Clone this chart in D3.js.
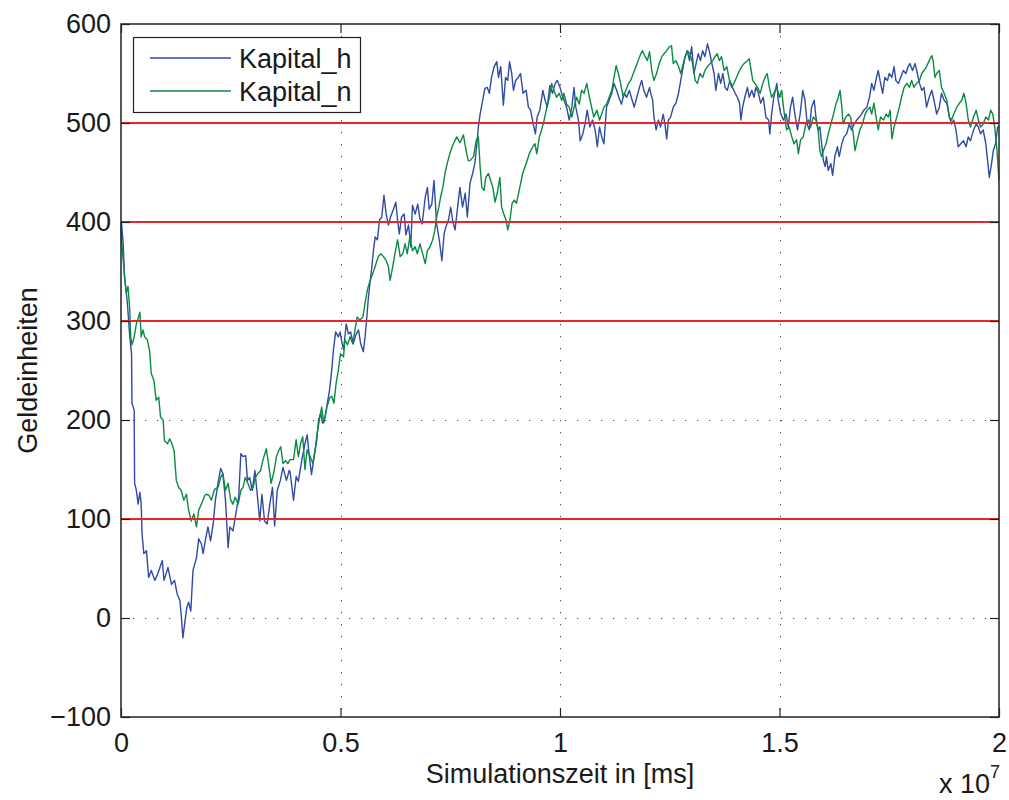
<!DOCTYPE html>
<html>
<head>
<meta charset="utf-8">
<script src="https://cdn.jsdelivr.net/npm/d3@7"></script>
<style>
  html, body { margin: 0; padding: 0; background: #fff; }
  svg text { font-family: "Liberation Sans", Arial, Helvetica, sans-serif; fill: #1a1a1a; }
</style>
</head>
<body>
<svg id="chart" width="1009" height="800"></svg>
<script>
// ---- data (time in units of 10^7 ms) ----
const kapitalH = [
 [0,400],[0.001,400],[0.005,378],[0.008,345],[0.014,321],[0.020,284],[0.024,267],[0.025,217],[0.030,210],[0.031,136],
 [0.035,129],[0.039,115],[0.043,127],[0.046,115],[0.048,85],[0.052,65],[0.058,68],[0.063,41],[0.069,48],[0.077,38],
 [0.084,45],[0.094,58],[0.098,38],[0.107,51],[0.115,34],[0.122,38],[0.128,24],[0.134,18],[0.137,4],[0.141,-20],
 [0.145,-6],[0.150,11],[0.154,16],[0.159,7],[0.164,48],[0.172,61],[0.177,80],[0.183,75],[0.187,65],[0.192,78],
 [0.198,92],[0.204,78],[0.210,95],[0.215,119],[0.221,136],[0.227,151],[0.232,146],[0.238,119],[0.244,71],[0.248,92],
 [0.255,88],[0.263,109],[0.268,122],[0.273,166],[0.278,163],[0.284,164],[0.288,139],[0.293,142],[0.299,129],[0.305,149],
 [0.311,122],[0.316,98],[0.321,125],[0.327,98],[0.333,95],[0.339,115],[0.345,132],[0.350,93],[0.356,129],[0.363,139],
 [0.369,152],[0.377,139],[0.383,149],
 [0.385,148],[0.393,119],[0.399,143],[0.404,138],[0.412,160],[0.419,176],[0.424,185],[0.429,163],[0.434,145],[0.440,163],
 [0.446,180],[0.450,200],[0.455,207],[0.459,197],[0.465,203],[0.470,217],[0.475,230],[0.480,250],[0.484,271],[0.489,289],
 [0.495,284],[0.499,289],[0.503,279],[0.507,271],[0.513,297],[0.518,287],[0.523,289],[0.529,277],[0.535,286],[0.541,291],
 [0.546,277],[0.552,269],[0.556,284],[0.560,304],[0.563,321],[0.567,338],[0.571,353],[0.575,371],[0.579,385],[0.584,382],
 [0.589,402],[0.594,405],[0.599,427],[0.604,408],[0.609,397],[0.614,405],[0.620,412],[0.626,420],[0.630,402],[0.634,388],
 [0.639,405],[0.645,408],[0.649,387],[0.655,397],[0.660,375],[0.664,417],[0.670,408],[0.676,418],[0.681,403],[0.686,398],
 [0.693,425],[0.698,435],[0.702,413],[0.708,418],[0.713,442],[0.719,398],[0.725,382],[0.731,361],[0.736,388],[0.740,395],
 [0.746,402],[0.751,415],[0.756,400],[0.761,392],[0.766,412],[0.772,435],[0.778,415],[0.784,429],[0.789,405],
 [0.795,439],[0.801,449],[0.806,459],[0.810,476],[0.814,496],[0.818,509],[0.824,523],[0.829,535],[0.834,536],[0.839,530],
 [0.844,546],[0.850,557],[0.856,562],[0.860,546],[0.865,557],[0.871,518],[0.876,546],[0.881,543],[0.885,562],[0.890,550],
 [0.894,533],[0.899,543],[0.905,546],[0.910,550],[0.916,530],[0.923,533],[0.928,516],[0.933,513],[0.939,499],[0.944,489],
 [0.948,506],[0.954,513],[0.961,533],[0.966,523],[0.971,516],[0.977,538],[0.983,530],[0.989,540],[0.994,543],[1.000,536],
 [1.005,528],[1.011,521],[1.015,516],[1.021,503],[1.027,516],[1.032,536],[1.036,516],[1.042,503],[1.046,482],[1.052,489],
 [1.057,499],[1.062,513],[1.068,496],[1.074,503],[1.080,493],[1.085,476],[1.090,496],[1.095,486],[1.100,479],[1.106,516],
 [1.112,523],[1.118,530],[1.123,540],[1.129,533],[1.134,526],[1.140,519],[1.146,530],[1.152,526],[1.158,533],[1.163,525],
 [1.169,516],[1.175,526],[1.181,536],[1.186,543],[1.191,533],[1.197,526],[1.204,536],
 [1.205,533],[1.211,523],[1.214,506],[1.219,493],[1.224,503],[1.229,496],[1.235,509],[1.239,499],[1.243,484],[1.247,503],
 [1.252,506],[1.258,516],[1.264,520],[1.270,530],[1.275,543],[1.279,553],[1.285,567],[1.290,573],[1.295,563],[1.300,577],
 [1.305,550],[1.310,560],[1.315,570],[1.320,563],[1.325,573],[1.330,567],[1.336,580],[1.340,573],[1.346,560],[1.351,550],
 [1.355,533],[1.361,550],[1.366,540],[1.371,550],[1.376,536],[1.381,533],[1.387,543],[1.393,536],[1.399,530],[1.404,526],
 [1.409,520],[1.412,503],[1.416,516],[1.421,526],[1.427,536],[1.431,526],[1.437,533],[1.442,526],[1.446,536],[1.452,530],
 [1.457,520],[1.463,526],[1.469,506],[1.475,503],[1.478,489],[1.482,509],[1.487,526],[1.494,540],[1.497,523],[1.503,509],
 [1.509,503],[1.515,509],[1.520,496],[1.525,516],[1.530,526],[1.535,509],[1.541,493],[1.547,509],[1.553,533],[1.558,523],
 [1.563,499],[1.568,493],[1.573,516],[1.579,523],[1.583,506],[1.588,493],
 [1.592,496],[1.596,479],[1.600,462],[1.604,456],[1.607,466],[1.611,452],[1.617,459],[1.621,447],[1.626,466],[1.632,476],
 [1.636,466],[1.642,479],[1.647,486],[1.653,489],[1.659,499],[1.664,493],[1.670,499],[1.676,503],[1.682,506],[1.687,509],
 [1.692,513],[1.699,516],[1.705,526],[1.710,540],[1.715,533],[1.721,546],[1.725,553],[1.729,543],[1.735,530],[1.740,546],
 [1.746,543],[1.750,550],[1.756,546],[1.761,557],[1.765,543],[1.771,540],[1.776,546],[1.782,553],[1.788,550],[1.793,557],
 [1.797,560],[1.803,553],[1.809,560],[1.814,550],[1.819,540],[1.824,533],[1.829,536],[1.835,516],[1.841,526],[1.847,533],
 [1.852,523],[1.858,509],[1.864,516],[1.869,530],[1.875,523],[1.881,520],[1.887,506],[1.892,499],[1.897,503],[1.902,493],
 [1.907,476],[1.913,479],[1.919,482],[1.925,476],[1.930,486],[1.935,482],[1.942,493],[1.948,499],[1.953,496],[1.958,489],
 [1.964,493],[1.970,479],[1.974,462],[1.978,445],[1.983,459],[1.987,472],[1.992,479],[1.997,496],[2.000,496]
];

const kapitalN = [
 [0,400],[0.001,382],[0.005,362],[0.008,345],[0.012,328],[0.016,335],[0.020,311],[0.022,284],[0.025,276],[0.030,284],
 [0.035,297],[0.040,304],[0.043,309],[0.046,284],[0.050,291],[0.054,284],[0.060,281],[0.065,270],[0.069,247],[0.075,240],
 [0.080,220],[0.086,223],[0.090,203],[0.096,200],[0.099,179],[0.106,176],[0.111,181],[0.116,176],[0.121,169],[0.126,139],
 [0.131,132],[0.137,129],[0.143,119],[0.149,125],[0.154,109],[0.160,98],[0.166,105],[0.172,92],[0.177,109],[0.183,115],
 [0.191,124],[0.194,125],[0.200,124],[0.206,119],[0.213,130],[0.221,132],[0.227,142],[0.232,146],[0.238,129],[0.244,136],
 [0.250,119],[0.255,115],[0.260,122],[0.267,115],[0.273,129],[0.278,132],[0.283,142],[0.289,136],[0.295,129],[0.301,132],
 [0.306,142],[0.312,146],[0.318,149],[0.323,159],[0.331,171],[0.336,156],[0.342,136],[0.349,149],[0.354,163],[0.359,169],
 [0.364,173],[0.369,156],[0.375,159],[0.380,156],
 [0.385,160],[0.393,160],[0.399,180],[0.404,163],[0.409,176],[0.414,183],[0.419,150],[0.424,170],[0.431,163],[0.437,156],
 [0.442,170],[0.447,187],[0.453,203],[0.457,213],[0.462,197],[0.469,213],[0.475,222],[0.480,224],[0.485,217],[0.490,237],
 [0.495,250],[0.500,267],[0.507,264],[0.510,281],[0.516,276],[0.522,284],[0.528,277],[0.533,291],[0.538,304],[0.544,301],
 [0.551,304],[0.556,318],[0.561,331],[0.566,339],[0.571,345],[0.576,351],[0.581,358],[0.586,365],[0.592,368],[0.598,365],
 [0.604,361],[0.609,355],[0.613,341],[0.619,355],[0.624,368],[0.630,382],[0.636,365],[0.642,368],[0.647,378],[0.652,368],
 [0.658,385],[0.664,371],[0.670,375],[0.675,368],[0.681,378],[0.687,368],[0.693,358],[0.698,371],[0.704,375],[0.710,382],
 [0.715,392],[0.719,405],[0.724,415],[0.728,425],[0.733,435],[0.738,449],[0.743,459],[0.749,469],[0.756,478],[0.765,486],
 [0.772,480],[0.780,488],[0.787,470],[0.791,462],
 [0.795,462],[0.803,466],[0.809,482],[0.814,486],[0.818,456],[0.822,435],[0.827,432],[0.831,445],[0.837,449],[0.842,442],
 [0.847,435],[0.852,420],[0.857,429],[0.863,445],[0.867,415],[0.872,408],[0.877,402],[0.881,392],[0.886,402],[0.891,419],
 [0.896,422],[0.901,419],[0.907,432],[0.915,449],[0.923,459],[0.930,469],[0.938,476],[0.943,479],[0.947,469],[0.953,486],
 [0.958,493],[0.964,503],[0.970,516],[0.976,526],[0.981,540],[0.986,533],[0.992,526],[0.998,530],[1.004,523],[1.009,530],
 [1.015,519],[1.021,516],[1.027,506],[1.032,516],[1.038,526],[1.044,519],[1.049,533],[1.055,530],[1.061,540],[1.067,526],
 [1.072,516],[1.077,506],[1.084,513],[1.090,503],[1.095,509],[1.100,516],[1.106,519],[1.112,526],[1.118,533],[1.123,546],
 [1.128,558],[1.133,550],[1.138,540],[1.144,526],[1.150,533],[1.156,540],[1.161,543],[1.167,550],[1.173,557],[1.178,563],
 [1.184,570],[1.188,573],[1.194,567],[1.199,563],[1.204,572],
 [1.209,553],[1.214,543],[1.220,550],[1.226,560],[1.232,567],[1.237,570],[1.243,573],[1.249,577],[1.254,578],[1.258,560],
 [1.264,563],[1.270,557],[1.275,550],[1.279,557],[1.285,567],[1.290,573],[1.296,570],[1.302,560],[1.308,543],[1.313,540],
 [1.319,550],[1.325,546],[1.330,553],[1.336,557],[1.342,560],[1.348,563],[1.353,567],[1.358,570],[1.363,563],[1.368,567],
 [1.374,553],[1.380,557],[1.386,543],[1.391,536],[1.396,540],[1.402,546],[1.409,553],[1.414,557],[1.419,560],[1.425,562],
 [1.431,565],[1.434,557],[1.439,543],[1.444,540],[1.450,536],[1.456,530],[1.462,540],[1.467,546],[1.472,550],[1.477,536],
 [1.482,526],[1.487,530],[1.494,536],[1.500,526],[1.505,533],[1.509,516],[1.513,503],[1.516,493],[1.522,496],[1.528,486],
 [1.533,479],[1.539,483],[1.543,469],[1.548,483],[1.554,486],[1.560,499],[1.566,503],[1.571,496],[1.577,506],[1.583,503],
 [1.588,493],
 [1.592,472],[1.596,466],[1.600,472],[1.606,479],[1.611,489],[1.617,499],[1.623,509],[1.629,520],[1.634,526],[1.638,533],
 [1.642,516],[1.645,499],[1.651,506],[1.657,509],[1.662,506],[1.668,489],[1.672,472],[1.677,482],[1.683,493],[1.689,499],
 [1.695,509],[1.700,513],[1.706,516],[1.710,509],[1.715,520],[1.720,506],[1.725,493],[1.730,506],[1.737,503],[1.743,509],
 [1.748,506],[1.752,513],[1.756,484],[1.761,496],[1.767,506],[1.773,516],[1.778,526],[1.784,536],[1.790,540],[1.796,536],
 [1.801,543],[1.806,536],[1.812,540],[1.819,543],[1.824,550],[1.829,553],[1.835,557],[1.841,563],[1.847,568],[1.850,563],
 [1.854,546],[1.858,550],[1.864,553],[1.869,536],[1.875,530],[1.881,523],[1.887,506],[1.892,503],[1.897,509],[1.904,516],
 [1.910,520],[1.915,523],[1.920,530],[1.925,520],[1.930,503],[1.935,496],[1.942,506],[1.948,513],[1.953,503],[1.958,496],
 [1.964,499],[1.970,506],[1.976,503],[1.981,513],[1.986,509],[1.991,493],[1.996,469],[2.000,442]
];

const seriesNames = ["Kapital_h", "Kapital_n"];
const referenceLevels = [100, 300, 400, 500];
const xTicks = [0, 0.5, 1, 1.5, 2];
const xTickLabels = ["0", "0.5", "1", "1.5", "2"];
const yTicks = [-100, 0, 100, 200, 300, 400, 500, 600];
const yTickLabels = ["\u2212100", "0", "100", "200", "300", "400", "500", "600"];
const xDomain = [0, 2];
const yDomain = [-100, 600];
const xLabel = "Simulationszeit in [ms]";
const yLabel = "Geldeinheiten";
const xExponent = "7";

// ---- layout ----
const L = 121, R = 999, T = 24, B = 717;
const FONT = 27;
const colors = { h: "#2f4ba3", n: "#0b8a43", ref: "#e8252b" };

const svg = d3.select("#chart");
const x = d3.scaleLinear().domain(xDomain).range([L, R]);
const y = d3.scaleLinear().domain(yDomain).range([B, T]);

// grid (dotted)
const grid = svg.append("g").attr("stroke", "#444").attr("stroke-width", 1)
  .attr("stroke-dasharray", "1.2,10.8");
grid.selectAll("line.gx").data(xTicks.slice(1, -1)).join("line")
  .attr("x1", d => Math.round(x(d)) + 0.5).attr("x2", d => Math.round(x(d)) + 0.5)
  .attr("y1", T).attr("y2", B);
grid.selectAll("line.gy").data(yTicks.slice(1, -1)).join("line")
  .attr("y1", d => Math.round(y(d)) + 0.5).attr("y2", d => Math.round(y(d)) + 0.5)
  .attr("x1", L).attr("x2", R);

// series
const line = d3.line().x(d => x(d[0])).y(d => y(d[1]));
svg.append("path").datum(kapitalH).attr("d", line)
  .attr("fill", "none").attr("stroke", colors.h).attr("stroke-width", 1.4).attr("stroke-linejoin", "round");
svg.append("path").datum(kapitalN).attr("d", line)
  .attr("fill", "none").attr("stroke", colors.n).attr("stroke-width", 1.4).attr("stroke-linejoin", "round");

// reference lines
svg.append("g").selectAll("line").data(referenceLevels).join("line")
  .attr("x1", L).attr("x2", R)
  .attr("y1", d => y(d)).attr("y2", d => y(d))
  .attr("stroke", colors.ref).attr("stroke-width", 2);

// axes with inward ticks
const tickStyle = g => {
  g.select(".domain").remove();
  g.selectAll(".tick line").attr("stroke", "#222").attr("stroke-width", 1.2);
  g.selectAll(".tick text").attr("font-size", FONT).attr("fill", "#1a1a1a")
    .attr("font-family", "'Liberation Sans', Arial, sans-serif");
};
svg.append("g").attr("transform", `translate(${L},0)`)
  .call(d3.axisLeft(y).tickValues(yTicks).tickFormat((d, i) => yTickLabels[i])
    .tickSizeInner(-9).tickSizeOuter(0).tickPadding(10))
  .call(tickStyle);
svg.append("g").attr("transform", `translate(${R},0)`)
  .call(d3.axisRight(y).tickValues(yTicks).tickFormat("").tickSizeInner(-9).tickSizeOuter(0))
  .call(tickStyle);
svg.append("g").attr("transform", `translate(0,${B})`)
  .call(d3.axisBottom(x).tickValues(xTicks).tickFormat((d, i) => xTickLabels[i])
    .tickSizeInner(-9).tickSizeOuter(0).tickPadding(16))
  .call(tickStyle);
svg.append("g").attr("transform", `translate(0,${T})`)
  .call(d3.axisTop(x).tickValues(xTicks).tickFormat("").tickSizeInner(-9).tickSizeOuter(0))
  .call(tickStyle);

// frame
svg.append("rect").attr("x", L).attr("y", T).attr("width", R - L).attr("height", B - T)
  .attr("fill", "none").attr("stroke", "#222").attr("stroke-width", 1.5);

// axis labels
svg.append("text").attr("x", (L + R) / 2).attr("y", 783).attr("text-anchor", "middle")
  .attr("font-size", FONT).text(xLabel);
svg.append("text").attr("transform", `translate(37,${(T + B) / 2}) rotate(-90)`)
  .attr("text-anchor", "middle").attr("font-size", FONT).text(yLabel);
const expo = svg.append("text").attr("x", 939).attr("y", 793).attr("font-size", FONT);
expo.append("tspan").text("x 10");
expo.append("tspan").attr("dy", -15).attr("font-size", 18).text(xExponent);

// legend
const leg = svg.append("g");
leg.append("rect").attr("x", 133.5).attr("y", 37.5).attr("width", 227).attr("height", 75)
  .attr("fill", "#fff").attr("stroke", "#222").attr("stroke-width", 1.2);
const legItems = [
  { name: seriesNames[0], color: colors.h, yy: 58 },
  { name: seriesNames[1], color: colors.n, yy: 91 }
];
legItems.forEach(it => {
  leg.append("line").attr("x1", 150).attr("x2", 231).attr("y1", it.yy).attr("y2", it.yy)
    .attr("stroke", it.color).attr("stroke-width", 1.4);
  leg.append("text").attr("x", 239).attr("y", it.yy + 10).attr("font-size", FONT).text(it.name);
});
</script>
</body>
</html>
